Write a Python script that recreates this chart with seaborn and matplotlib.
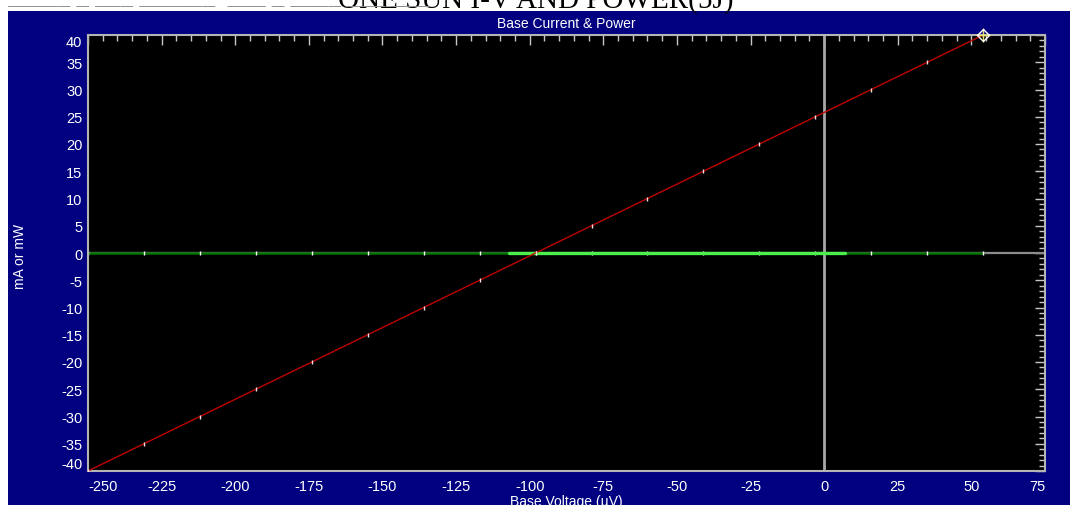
import matplotlib
matplotlib.use("Agg")
import matplotlib.pyplot as plt
import matplotlib.patches as mpatches
from matplotlib.ticker import MultipleLocator
import seaborn as sns

# base voltage (uV) at each sample, current (mA) and power (mW)
voltage = [-250, -231, -212, -193, -174, -155, -136, -117, -98, -79, -60, -41, -22, -3, 16, 35, 54]
current = [-40, -35, -30, -25, -20, -15, -10, -5, 0, 5, 10, 15, 20, 25, 30, 35, 40]
power = [0.0, 0.0, 0.0, 0.0, 0.0, 0.0, 0.0, 0.0, 0.0, 0.0, 0.0, 0.0, 0.0, 0.0, 0.0, 0.0, 0.0]
# highlighted stretch of the power trace
hl_voltage = [-107, 7]
hl_power = [0.0, 0.0]

x_ticks = list(range(-250, 76, 25))
y_ticks = list(range(-40, 41, 5))

sns.set_style("dark")
plt.rcParams["font.family"] = ["Liberation Sans", "DejaVu Sans"]
plt.rcParams["axes.unicode_minus"] = False

fig = plt.figure(figsize=(10.7, 5.06), dpi=100, facecolor="white")
W, H = 1070, 506

# navy frame
fig.patches.append(mpatches.Rectangle((8 / W, 0), 1, 1 - 12 / H, transform=fig.transFigure,
                                      facecolor="#000080", edgecolor="none", zorder=-5))

# clipped page heading above the frame
fig.text(536 / W, 1 - 8 / H, "ONE SUN I-V AND POWER(5J)", family="Liberation Serif",
         fontsize=21, ha="center", va="baseline", color="black", zorder=-4)
fig.text(7 / W, 1 - 3 / H, "_____ _ ___ ______  ___ _ ____ ___ ___", family="Liberation Serif",
         fontsize=18, ha="left", va="baseline", color="#909090", zorder=-4)

ax = fig.add_axes([88 / W, 1 - 472 / H, (1045 - 88) / W, (472 - 36) / H])
ax.set_facecolor("black")
ax.set_zorder(2)

ax.axhline(0, color="#8c8c8c", lw=1.6, zorder=1)
ax.axvline(0, color="#a8a8a8", lw=2, zorder=1)

sns.lineplot(x=voltage, y=power, ax=ax, color="#007000", lw=1.8, sort=False,
             marker="|", markersize=2.5, markeredgecolor="white", markeredgewidth=1, zorder=2)
sns.lineplot(x=hl_voltage, y=hl_power, ax=ax, color="#4cf04c", lw=2.4, sort=False, zorder=3)
sns.lineplot(x=voltage, y=current, ax=ax, color="#c00000", lw=1.0, sort=False,
             marker="|", markersize=2.5, markeredgecolor="#f4e0e0", markeredgewidth=1, zorder=4)

# cursor on the last sample
ax.plot(voltage[-1], current[-1], marker="D", ms=6, mfc="none", mec="white", mew=1, zorder=6, clip_on=False)
ax.plot(voltage[-1], current[-1], marker="+", ms=10, mec="#e8e070", mew=1, zorder=5, clip_on=False)

ax.set_xlim(-250, 75)
ax.set_ylim(-40, 40)
ax.set_xticks(x_ticks)
ax.set_yticks(y_ticks)
ax.set_xticklabels([str(v) for v in x_ticks])
ax.set_yticklabels([str(v) for v in y_ticks])
ax.xaxis.set_minor_locator(MultipleLocator(5))
ax.yaxis.set_minor_locator(MultipleLocator(1))
ax.grid(False)

ax.tick_params(which="both", direction="in", top=True, right=True, colors="#c8c8c8",
               labelcolor="white", labelsize=10.5)
ax.tick_params(axis="x", which="major", length=7, width=1, pad=6)
ax.tick_params(axis="x", which="minor", length=4, width=1)
ax.tick_params(axis="y", which="major", length=7, width=1, pad=4)
ax.tick_params(axis="y", which="minor", length=4, width=1)

xl = ax.get_xticklabels()
xl[0].set_ha("left")
xl[-1].set_ha("right")
yl = ax.get_yticklabels()
yl[0].set_va("bottom")
yl[-1].set_va("top")

for s in ax.spines.values():
    s.set_color("#b4b4b4")
    s.set_linewidth(1.5)
    s.set_visible(True)

ax.set_title("Base Current & Power", color="white", fontsize=10, pad=6)
fig.text(20 / W, 1 - 256 / H, "mA or mW", rotation=90, color="white", fontsize=10,
         ha="center", va="center")
fig.text(566 / W, 1 - 502 / H, "Base Voltage (µV)", color="white", fontsize=10,
         ha="center", va="center")

fig.savefig("out.png", dpi=100, facecolor=fig.get_facecolor())
